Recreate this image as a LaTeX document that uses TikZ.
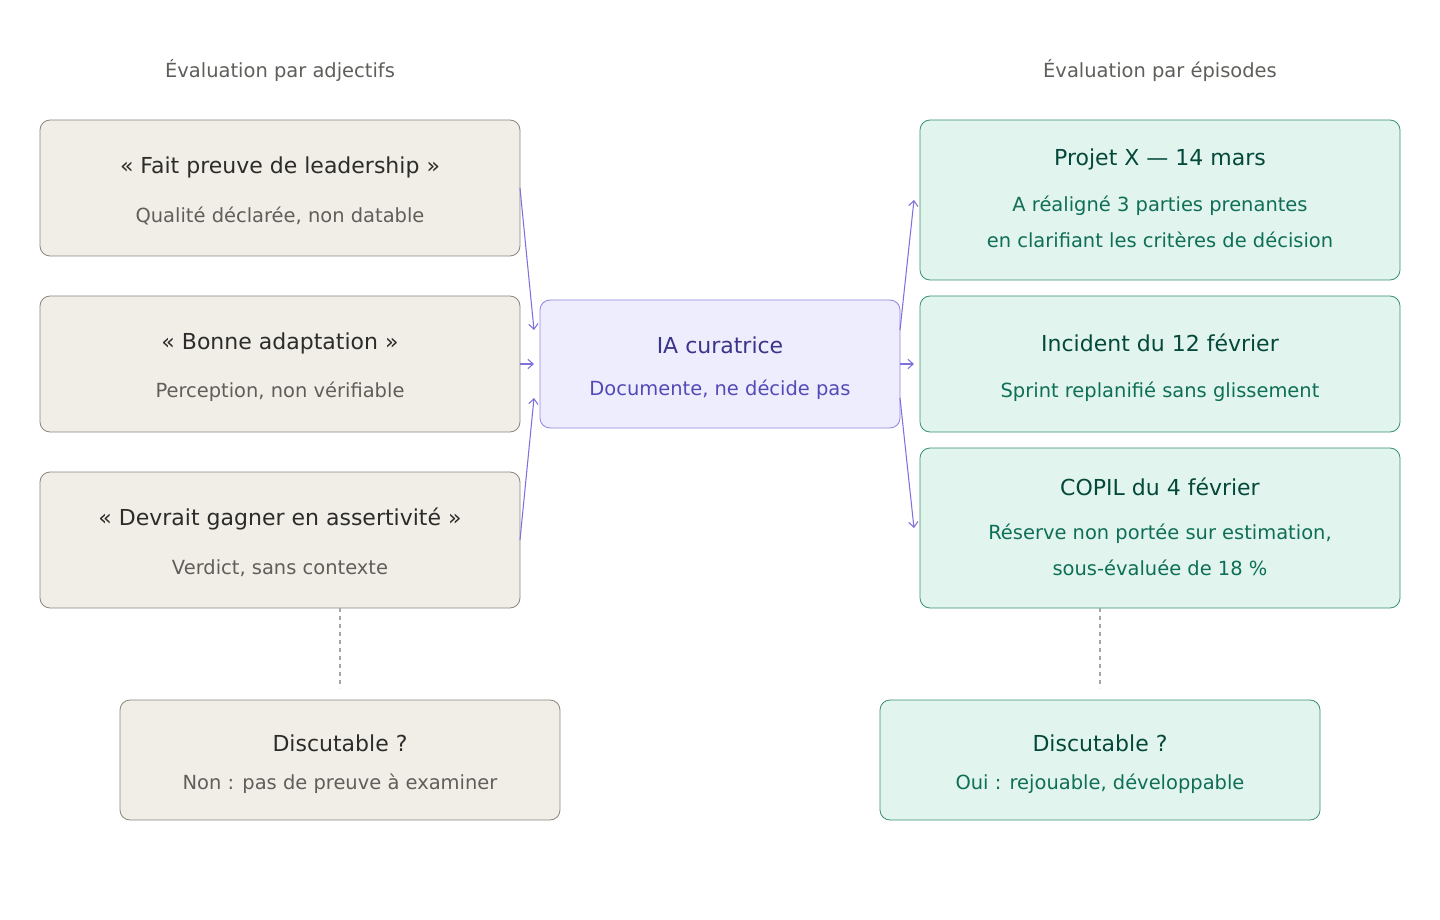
\documentclass[tikz,border=0pt]{standalone}
\usepackage{fontspec}
\setmainfont{DejaVu Sans}
\usetikzlibrary{arrows.meta}
\definecolor{sandfill}{HTML}{F1EEE8}
\definecolor{sandline}{HTML}{8A8680}
\definecolor{sandhead}{HTML}{2C2C2A}
\definecolor{sandsub}{HTML}{5F5E5A}
\definecolor{lilfill}{HTML}{EEEDFE}
\definecolor{lilline}{HTML}{8F85E0}
\definecolor{lilhead}{HTML}{3C3489}
\definecolor{lilsub}{HTML}{534AB7}
\definecolor{mintfill}{HTML}{E1F5EE}
\definecolor{mintline}{HTML}{3B8E6E}
\definecolor{minthead}{HTML}{04483A}
\definecolor{mintsub}{HTML}{0F6E56}
\definecolor{arrowc}{HTML}{7F72DC}
\tikzset{
  box/.style={draw, rounded corners=7.5pt, line width=0.6pt, inner sep=0pt},
  sandbox/.style={box, fill=sandfill, draw=sandline},
  lilbox/.style={box, fill=lilfill, draw=lilline},
  mintbox/.style={box, fill=mintfill, draw=mintline},
  head/.style={font=\fontsize{16.5}{20}\selectfont, inner sep=0pt},
  sub/.style={font=\fontsize{14.6}{27}\selectfont, inner sep=0pt, align=center},
  caption/.style={font=\fontsize{14.6}{18}\selectfont, text=sandsub, inner sep=0pt},
  link/.style={draw=arrowc, line width=0.8pt, -{Straight Barb[length=4pt,width=7pt]}},
  guide/.style={draw=black!35, dashed, line width=0.8pt}
}
\begin{document}
\begin{tikzpicture}[x=0.75pt, y=-0.75pt]
  \useasboundingbox (0,0) rectangle (1440,920);
  % column headings
  \node[caption] (hl) at (280,71) {Évaluation par adjectifs};
  \node[caption] (hr) at (1160,71) {Évaluation par épisodes};
  % adjective boxes
  \draw[sandbox] (40,120) rectangle (520,256);
  \draw[sandbox] (40,296) rectangle (520,432);
  \draw[sandbox] (40,472) rectangle (520,608);
  \node[head, text=sandhead] (a1) at (280,167) {« Fait preuve de leadership »};
  \node[sub, text=sandsub] (a1s) at (280,216) {Qualité déclarée, non datable};
  \node[head, text=sandhead] (a2) at (280,343) {« Bonne adaptation »};
  \node[sub, text=sandsub] (a2s) at (280,392) {Perception, non vérifiable};
  \node[head, text=sandhead] (a3) at (280,519) {« Devrait gagner en assertivité »};
  \node[sub, text=sandsub] (a3s) at (280,568) {Verdict, sans contexte};
  \coordinate (a1e) at (520,188);
  \coordinate (a2e) at (520,364);
  \coordinate (a3e) at (520,540);
  % curator
  \draw[lilbox] (540,300) rectangle (900,428);
  \node[head, text=lilhead] (ia) at (720,345) {IA curatrice};
  \node[sub, text=lilsub] (ias) at (720,390) {Documente, ne décide pas};
  \coordinate (iw1) at (534,330);
  \coordinate (iw2) at (534,364);
  \coordinate (iw3) at (534,398);
  \coordinate (ie1) at (900,330);
  \coordinate (ie2) at (900,364);
  \coordinate (ie3) at (900,398);
  % episode boxes
  \draw[mintbox] (920,120) rectangle (1400,280);
  \draw[mintbox] (920,296) rectangle (1400,432);
  \draw[mintbox] (920,448) rectangle (1400,608);
  \node[head, text=minthead] (e1) at (1160,159) {Projet X — 14 mars};
  \node[sub, text=mintsub] (e1s) at (1160,222) {A réaligné 3 parties prenantes\\en clarifiant les critères de décision};
  \node[head, text=minthead] (e2) at (1160,343) {Incident du 12 février};
  \node[sub, text=mintsub] (e2s) at (1160,392) {Sprint replanifié sans glissement};
  \node[head, text=minthead] (e3) at (1160,487) {COPIL du 4 février};
  \node[sub, text=mintsub] (e3s) at (1160,550) {Réserve non portée sur estimation,\\sous-évaluée de 18 \%};
  \coordinate (e1w) at (914,200);
  \coordinate (e2w) at (914,364);
  \coordinate (e3w) at (914,528);
  % connectors
  \draw[link] (a1e) -- (iw1);
  \draw[link] (a2e) -- (iw2);
  \draw[link] (a3e) -- (iw3);
  \draw[link] (ie1) -- (e1w);
  \draw[link] (ie2) -- (e2w);
  \draw[link] (ie3) -- (e3w);
  % verdicts
  \coordinate (dl1) at (340,608);
  \coordinate (dl2) at (340,688);
  \coordinate (dr1) at (1100,608);
  \coordinate (dr2) at (1100,688);
  \draw[guide] (dl1) -- (dl2);
  \draw[guide] (dr1) -- (dr2);
  \draw[sandbox] (120,700) rectangle (560,820);
  \draw[mintbox] (880,700) rectangle (1320,820);
  \node[head, text=sandhead] (vl) at (340,743) {Discutable ?};
  \node[sub, text=sandsub] (vls) at (340,784) {Non : pas de preuve à examiner};
  \node[head, text=minthead] (vr) at (1100,743) {Discutable ?};
  \node[sub, text=mintsub] (vrs) at (1100,784) {Oui : rejouable, développable};
\end{tikzpicture}
\end{document}
